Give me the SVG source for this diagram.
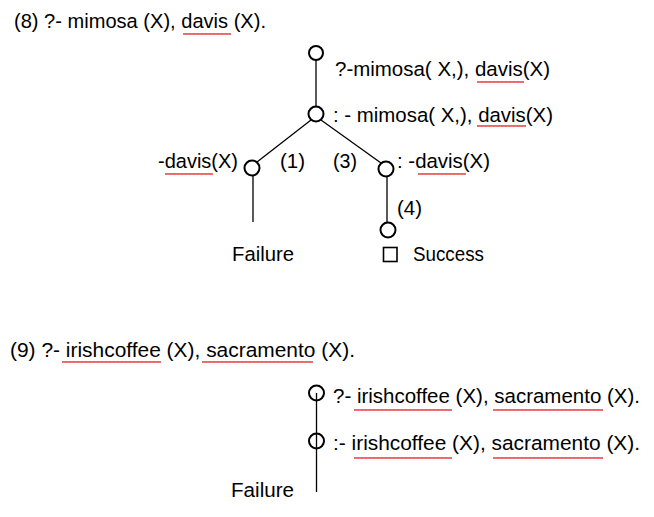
<svg xmlns="http://www.w3.org/2000/svg" width="654" height="517" viewBox="0 0 654 517">
<defs>
<style>
text{font-family:"Liberation Sans",Arial,sans-serif;font-size:20.5px;fill:#000}
.node{fill:#fff;stroke:#000;stroke-width:2}
.edge{stroke:#000;stroke-width:1.3;fill:none}
</style>
<pattern id="wv" width="4" height="4" patternUnits="userSpaceOnUse"><path d="M0,3 L1,1 L2,3 L3,1 L4,3" fill="none" stroke="#e02020" stroke-width="0.8"/></pattern>
</defs>
<rect width="654" height="517" fill="#fff"/>
<g id="connectors">
<line class="edge" x1="316" y1="60" x2="316" y2="107"/>
<line class="edge" x1="311" y1="120" x2="257" y2="162"/>
<line class="edge" x1="321" y1="120" x2="381" y2="163"/>
<line class="edge" x1="253" y1="176" x2="253" y2="222"/>
<line class="edge" x1="387" y1="177" x2="387" y2="222"/>
</g>
<g id="title8"><text x="14" y="28" textLength="252" lengthAdjust="spacingAndGlyphs">(8) ?- mimosa (X), davis (X).</text></g>
<g id="n1"><circle class="node" cx="316" cy="53" r="7"/><text x="335" y="76" textLength="215" lengthAdjust="spacingAndGlyphs">?-mimosa( X,), davis(X)</text></g>
<g id="n2"><circle class="node" cx="316" cy="114" r="7.5"/><text x="333" y="122" textLength="220" lengthAdjust="spacingAndGlyphs">: - mimosa( X,), davis(X)</text></g>
<g id="n3"><circle class="node" cx="252" cy="168" r="7.5"/><text x="158" y="168" textLength="80" lengthAdjust="spacingAndGlyphs">-davis(X)</text></g>
<g id="lbl1"><text x="280" y="168" textLength="25" lengthAdjust="spacingAndGlyphs">(1)</text></g>
<g id="lbl3"><text x="333" y="168" textLength="24" lengthAdjust="spacingAndGlyphs">(3)</text></g>
<g id="n4"><circle class="node" cx="386" cy="169" r="7.5"/><text x="397" y="168" textLength="93" lengthAdjust="spacingAndGlyphs">: -davis(X)</text></g>
<g id="fail1"><text x="232" y="261" textLength="62" lengthAdjust="spacingAndGlyphs">Failure</text></g>
<g id="lbl4"><text x="397" y="215" textLength="25" lengthAdjust="spacingAndGlyphs">(4)</text></g>
<g id="n5"><circle class="node" cx="388" cy="230" r="7.5"/></g>
<g id="success"><rect x="383.5" y="247.5" width="13.5" height="14" fill="none" stroke="#000" stroke-width="1.6"/><text x="413" y="261" textLength="71" lengthAdjust="spacingAndGlyphs">Success</text></g>
<g id="title9"><text x="10" y="357" textLength="345" lengthAdjust="spacingAndGlyphs">(9) ?- irishcoffee (X), sacramento (X).</text></g>
<g id="n6"><circle class="node" cx="316.5" cy="393" r="7.5"/><text x="333" y="403" textLength="307" lengthAdjust="spacingAndGlyphs">?- irishcoffee (X), sacramento (X).</text></g>
<g id="n7"><circle class="node" cx="316.5" cy="441" r="7.5"/><text x="333" y="450" textLength="307" lengthAdjust="spacingAndGlyphs">:- irishcoffee (X), sacramento (X).</text></g>
<g id="connector9"><line class="edge" x1="316.5" y1="393" x2="316.5" y2="492"/></g>
<g id="fail2"><text x="231" y="497" textLength="63" lengthAdjust="spacingAndGlyphs">Failure</text></g>
<g id="spell" fill="url(#wv)">
<rect x="183" y="32" width="48" height="4"/>
<rect x="477" y="80" width="47" height="4"/>
<rect x="477" y="124" width="49" height="4"/>
<rect x="165" y="172" width="48" height="4"/>
<rect x="418" y="172" width="48" height="4"/>
<rect x="62" y="360" width="99" height="4"/>
<rect x="202" y="360" width="111" height="4"/>
<rect x="354" y="408" width="98" height="4"/>
<rect x="493" y="408" width="110" height="4"/>
<rect x="354" y="456" width="98" height="4"/>
<rect x="493" y="456" width="110" height="4"/>
</g>
</svg>
